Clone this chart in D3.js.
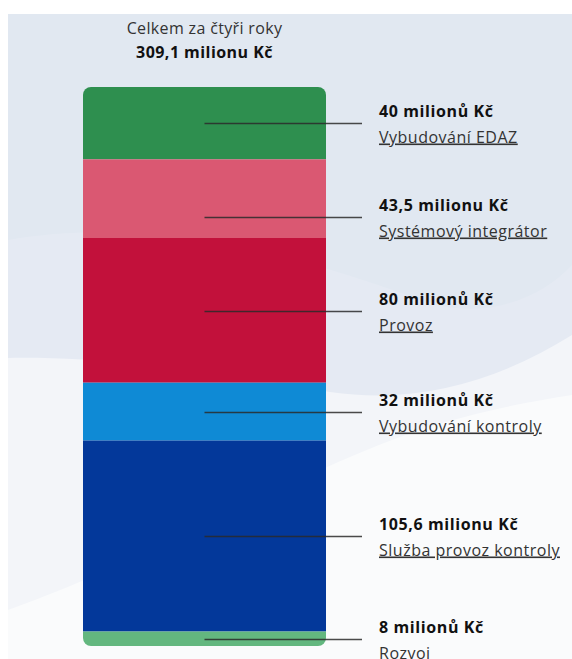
<!DOCTYPE html>
<html>
<head>
<meta charset="utf-8">
<script src="https://cdn.jsdelivr.net/npm/d3@7"></script>
<style>
  html, body { margin: 0; padding: 0; background: #ffffff; }
  svg { display: block; font-family: "Open Sans", "Noto Sans", sans-serif; }
</style>
</head>
<body>
<svg id="chart" width="572" height="659"></svg>
<script>
// ---- data ----
const categories = ["Vybudování EDAZ", "Systémový integrátor", "Provoz", "Vybudování kontroly", "Služba provoz kontroly", "Rozvoj"];
const values = [40, 43.5, 80, 32, 105.6, 8];
const valueLabels = ["40 milionů Kč", "43,5 milionu Kč", "80 milionů Kč", "32 milionů Kč", "105,6 milionu Kč", "8 milionů Kč"];
const colors = ["#2e8f4f", "#da5872", "#c2113b", "#0f8ad5", "#03389a", "#63b77f"];
const titleLine1 = "Celkem za čtyři roky";
const titleLine2 = "309,1 milionu Kč";

const W = 572, H = 659;
const svg = d3.select("#chart");

// ---- background panel with soft waves ----
const bg = svg.append("g");
bg.append("rect").attr("x", 8).attr("y", 14).attr("width", W - 8).attr("height", H - 14).attr("fill", "#e1e8f1");
bg.append("path")
  .attr("d", "M8,240 C150,215 300,255 420,300 C480,322 540,300 572,265 L572,659 L8,659 Z")
  .attr("fill", "#e5eaf3");
bg.append("path")
  .attr("d", "M8,358 C120,356 250,378 330,392 C420,405 500,380 572,335 L572,659 L8,659 Z")
  .attr("fill", "#f3f5f9");
bg.append("path")
  .attr("d", "M8,610 C150,560 300,470 420,430 C480,410 540,400 572,395 L572,659 L8,659 Z")
  .attr("fill", "#fafbfc");

// ---- scales ----
const total = d3.sum(values);
const stacked = [];
let acc = 0;
values.forEach((v, i) => { stacked.push({ i, y0: acc, y1: acc + v }); acc += v; });

const y = d3.scaleLinear().domain([0, total]).range([87, 646]);
const x = d3.scaleLinear().domain([0, 1]).range([83, 326]);

// ---- title ----
const cx = (x(0) + x(1)) / 2;
svg.append("text").attr("x", cx).attr("y", 34).attr("text-anchor", "middle")
  .attr("font-size", 16).attr("letter-spacing", 0.35).attr("fill", "#333").text(titleLine1);
svg.append("text").attr("x", cx).attr("y", 58).attr("text-anchor", "middle")
  .attr("font-size", 16).attr("letter-spacing", 0.45).attr("font-weight", 700).attr("fill", "#111").text(titleLine2);

// ---- bar ----
const defs = svg.append("defs");
defs.append("clipPath").attr("id", "barclip").append("rect")
  .attr("x", x(0)).attr("y", y(0)).attr("width", x(1) - x(0)).attr("height", y(total) - y(0)).attr("rx", 8);

svg.append("g").attr("clip-path", "url(#barclip)")
  .selectAll("rect").data(stacked).join("rect")
  .attr("x", x(0)).attr("width", x(1) - x(0))
  .attr("y", d => y(d.y0)).attr("height", d => y(d.y1) - y(d.y0))
  .attr("fill", d => colors[d.i]);

// ---- label layout (centers, pushed apart) ----
const minGap = 94;
const pos = stacked.map(d => (y(d.y0) + y(d.y1)) / 2);
for (let k = 1; k < pos.length; k++) {
  if (pos[k] - pos[k - 1] < minGap) pos[k] = pos[k - 1] + minGap;
}

const lines = svg.append("g");
stacked.forEach((d, k) => {
  const ly = Math.round(pos[k]) + 0.5;
  lines.append("line")
    .attr("x1", cx).attr("x2", 362).attr("y1", ly).attr("y2", ly)
    .attr("stroke", "#2a2a2a").attr("stroke-width", 1.5).attr("stroke-opacity", 0.85);
  svg.append("text").attr("x", 379).attr("y", ly - 7)
    .attr("font-size", 16).attr("letter-spacing", 0.6).attr("font-weight", 700).attr("fill", "#111")
    .text(valueLabels[d.i]);
  svg.append("text").attr("x", 379).attr("y", ly + 19)
    .attr("font-size", 16).attr("letter-spacing", 0.5).attr("fill", "#333").attr("text-decoration", "underline")
    .text(categories[d.i]);
});
</script>
</body>
</html>
